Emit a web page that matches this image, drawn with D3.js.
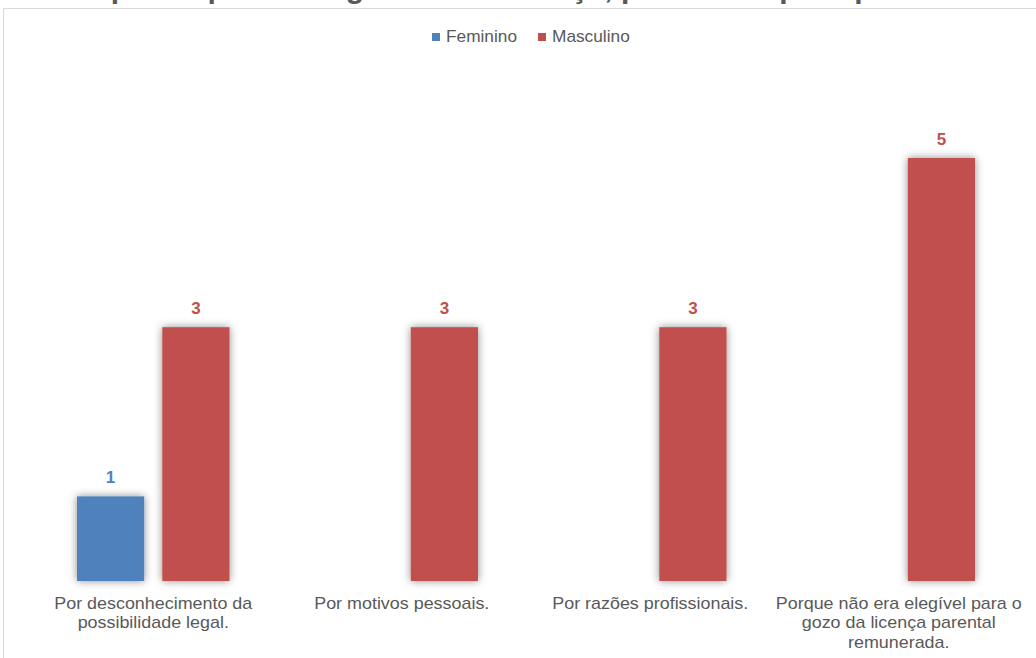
<!DOCTYPE html>
<html>
<head>
<meta charset="utf-8">
<script src="https://cdn.jsdelivr.net/npm/d3@7"></script>
<style>
  html, body { margin: 0; padding: 0; background: #ffffff; }
  svg { display: block; font-family: "Liberation Sans", Arial, sans-serif; }
</style>
</head>
<body>
<svg id="chart" width="1036" height="658"></svg>
<script>
// Reasons given for not taking the leave, by sex
const categories = [
  "Por desconhecimento da\npossibilidade legal.",
  "Por motivos pessoais.",
  "Por razões profissionais.",
  "Porque não era elegível para o\ngozo da licença parental\nremunerada."
];
const seriesNames = ["Feminino", "Masculino"];
const feminino = [1, null, null, null];
const masculino = [3, 3, 3, 5];
const seriesColors = ["#4F81BD", "#C0504D"];
const titleText = "Motivos pelos quais não gozaram a licença, por sexo e por tipo";

const W = 1036, H = 658;
const svg = d3.select("#chart");
const textGrey = "#595959";

// soft outer shadow behind the bars
const defs = svg.append("defs");
const f = defs.append("filter").attr("id", "barShadow")
  .attr("x", "-30%").attr("y", "-10%").attr("width", "160%").attr("height", "120%");
f.append("feDropShadow").attr("dx", 0).attr("dy", 0)
  .attr("stdDeviation", 4).attr("flood-color", "#000").attr("flood-opacity", 0.45);

// title, sitting above the chart frame
svg.append("text")
  .attr("x", 440).attr("y", -2)
  .attr("text-anchor", "middle")
  .attr("font-size", 30).attr("font-weight", "bold")
  .attr("fill", textGrey)
  .text(titleText);

// chart frame
svg.append("path")
  .attr("d", `M3.5,${H + 2} V8.5 H${W + 2}`)
  .attr("fill", "none").attr("stroke", "#d9d9d9").attr("stroke-width", 1);

// scales
const x0 = d3.scaleBand().domain(d3.range(categories.length)).range([29, 1023]).padding(0);
const groupPad = 48;
const x1 = d3.scaleBand().domain(seriesNames)
  .range([groupPad, x0.bandwidth() - groupPad]).paddingInner(0.212);
const y = d3.scaleLinear().domain([0, 5]).range([581, 158]);

const table = categories.map((c, i) => ({
  i,
  values: [
    { s: seriesNames[0], v: feminino[i], color: seriesColors[0] },
    { s: seriesNames[1], v: masculino[i], color: seriesColors[1] }
  ]
}));

const groups = svg.append("g").selectAll("g").data(table).join("g")
  .attr("transform", d => `translate(${x0(d.i)},0)`);

const present = d => d.values.filter(v => v.v != null && v.v > 0);

groups.selectAll("rect").data(present).join("rect")
  .attr("x", d => x1(d.s))
  .attr("y", d => y(d.v))
  .attr("width", x1.bandwidth())
  .attr("height", d => y(0) - y(d.v))
  .attr("fill", d => d.color)
  .attr("filter", "url(#barShadow)");

groups.selectAll("text.val").data(present).join("text")
  .attr("class", "val")
  .attr("x", d => x1(d.s) + x1.bandwidth() / 2)
  .attr("y", d => y(d.v) - 13)
  .attr("text-anchor", "middle")
  .attr("font-size", 17).attr("font-weight", "bold")
  .attr("fill", d => d.color)
  .text(d => d.v);

// category labels under the bars
const stretch = 1.12;
const labels = svg.append("g").selectAll("text").data(categories).join("text")
  .attr("transform", (d, i) => `translate(${x0(i) + x0.bandwidth() / 2},609) scale(${stretch},1)`)
  .attr("text-anchor", "middle")
  .attr("font-size", 16)
  .attr("fill", textGrey);
labels.each(function(d) {
  d3.select(this).selectAll("tspan").data(d.split("\n")).join("tspan")
    .attr("x", 0)
    .attr("y", (t, k) => k * 19.5)
    .text(t => t);
});

// legend
const legendItems = [
  { name: seriesNames[0], color: seriesColors[0], x: 432 },
  { name: seriesNames[1], color: seriesColors[1], x: 538 }
];
const lg = svg.append("g").selectAll("g").data(legendItems).join("g")
  .attr("transform", d => `translate(${d.x},0)`);
lg.append("rect").attr("x", 0).attr("y", 33).attr("width", 8).attr("height", 8)
  .attr("fill", d => d.color);
lg.append("text")
  .attr("transform", `translate(14,42) scale(1.08,1)`)
  .attr("font-size", 16).attr("fill", textGrey)
  .text(d => d.name);
</script>
</body>
</html>
